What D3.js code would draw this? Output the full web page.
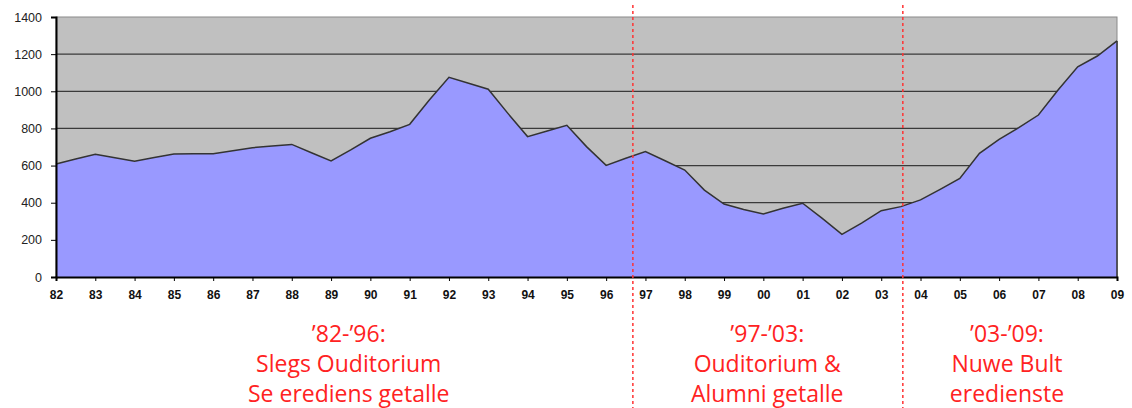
<!DOCTYPE html>
<html>
<head>
<meta charset="utf-8">
<script src="https://cdn.jsdelivr.net/npm/d3@7"></script>
<style>
  body { margin: 0; background: #fff; }
  svg { display: block; }
</style>
</head>
<body>
<svg id="chart" width="1132" height="408"></svg>
<script>
const width = 1132;
const height = 408;
const margin = { top: 17, right: 15, bottom: 131, left: 56 };

// half-year steps, 100 = 2000
const periods = [82, 82.5, 83, 83.5, 84, 84.5, 85, 85.5, 86, 86.5, 87, 87.5, 88, 88.5,
    89, 89.5, 90, 90.5, 91, 91.5, 92, 92.5, 93, 93.5, 94, 94.5, 95, 95.5, 96, 96.5,
    97, 97.5, 98, 98.5, 99, 99.5, 100, 100.5, 101, 101.5, 102, 102.5, 103, 103.5,
    104, 104.5, 105, 105.5, 106, 106.5, 107, 107.5, 108, 108.5, 109];
const counts = [608, 635, 661, 642, 623, 643, 662, 663, 664, 680, 696, 705, 714, 669,
    625, 684, 747, 782, 822, 953, 1075, 1043, 1011, 881, 756, 786, 817, 702, 601, 639,
    675, 626, 576, 468, 393, 364, 339, 370, 397, 316, 230, 290, 357, 379,
    415, 472, 531, 666, 741, 804, 872, 1007, 1132, 1190, 1271];

const yearTicks = [82, 83, 84, 85, 86, 87, 88, 89, 90, 91, 92, 93, 94, 95, 96, 97, 98,
    99, 100, 101, 102, 103, 104, 105, 106, 107, 108, 109];
const yearLabels = ["82", "83", "84", "85", "86", "87", "88", "89", "90", "91", "92", "93",
    "94", "95", "96", "97", "98", "99", "00", "01", "02", "03", "04", "05", "06", "07", "08", "09"];
const valueTicks = [0, 200, 400, 600, 800, 1000, 1200, 1400];

const dividers = [96.68, 103.55];
const noteCenters = [89.45, 100.1, 106.2];
const noteLines = [
    ["\u201982-\u201996:", "Slegs Ouditorium", "Se erediens getalle"],
    ["\u201997-\u201903:", "Ouditorium &", "Alumni getalle"],
    ["\u201903-\u201909:", "Nuwe Bult", "eredienste"]
];

const data = periods.map((p, i) => ({ p: p, v: counts[i] }));

const svg = d3.select("#chart");
const plotW = width - margin.left - margin.right;
const plotH = height - margin.top - margin.bottom;

const x = d3.scaleLinear().domain([82, 109]).range([margin.left, margin.left + plotW]);
const y = d3.scaleLinear().domain([0, 1400]).range([margin.top + plotH, margin.top]);

// plot background
svg.append("rect")
    .attr("x", x(82)).attr("y", y(1400))
    .attr("width", x(109) - x(82)).attr("height", y(0) - y(1400))
    .attr("fill", "#c0c0c0")
    .attr("stroke", "#8a8a8a")
    .attr("stroke-width", 1);

// gridlines
svg.append("g")
    .selectAll("line")
    .data(valueTicks.filter(v => v > 0 && v < 1400))
    .enter()
    .append("line")
    .attr("x1", x(82)).attr("x2", x(109))
    .attr("y1", d => y(d)).attr("y2", d => y(d))
    .attr("stroke", "#3a3a3a")
    .attr("stroke-width", 1.2);

// area
const area = d3.area()
    .x(d => x(d.p))
    .y0(y(0))
    .y1(d => y(d.v));

const line = d3.line()
    .x(d => x(d.p))
    .y(d => y(d.v));

svg.append("path")
    .datum(data)
    .attr("d", area)
    .attr("fill", "#9999ff");

svg.append("path")
    .datum(data)
    .attr("d", line)
    .attr("fill", "none")
    .attr("stroke", "#333")
    .attr("stroke-width", 1.5);

// right edge of area
svg.append("line")
    .attr("x1", x(109)).attr("x2", x(109))
    .attr("y1", y(counts[counts.length - 1])).attr("y2", y(0))
    .attr("stroke", "#333")
    .attr("stroke-width", 1.5);

// y axis
const yAxis = d3.axisLeft(y)
    .tickValues(valueTicks)
    .tickFormat(d3.format("d"))
    .tickSize(5)
    .tickPadding(9);

const yg = svg.append("g")
    .attr("transform", "translate(" + x(82) + ",0)")
    .call(yAxis);
yg.select(".domain").attr("stroke", "#000").attr("stroke-width", 2);
yg.selectAll(".tick line").attr("stroke", "#000");
yg.selectAll(".tick text")
    .attr("fill", "#222")
    .style("font-family", "Liberation Sans, Arial, sans-serif")
    .style("font-size", "12.5px");

// x axis
const xAxis = d3.axisBottom(x)
    .tickValues(yearTicks)
    .tickFormat((d, i) => yearLabels[i])
    .tickSize(4)
    .tickPadding(9);

const xg = svg.append("g")
    .attr("transform", "translate(0," + y(0) + ")")
    .call(xAxis);
xg.select(".domain").attr("stroke", "#000").attr("stroke-width", 2);
xg.selectAll(".tick line").attr("stroke", "#000");
xg.selectAll(".tick text")
    .attr("fill", "#111")
    .style("font-family", "Liberation Sans, Arial, sans-serif")
    .style("font-weight", "bold")
    .style("font-size", "12px");

// dividers
svg.append("g")
    .selectAll("line")
    .data(dividers)
    .enter()
    .append("line")
    .attr("x1", d => x(d)).attr("x2", d => x(d))
    .attr("y1", 5).attr("y2", height)
    .attr("stroke", "#f33")
    .attr("stroke-width", 1.5)
    .attr("stroke-dasharray", "3,3");

// period notes
const notes = svg.append("g")
    .selectAll("text")
    .data(noteCenters)
    .enter()
    .append("text")
    .attr("text-anchor", "middle")
    .attr("fill", "#f22")
    .style("font-family", "Open Sans, sans-serif")
    .style("font-size", "23px");

notes.selectAll("tspan")
    .data((d, i) => noteLines[i].map(l => ({ at: d, text: l })))
    .enter()
    .append("tspan")
    .attr("x", d => x(d.at))
    .attr("y", (d, i) => 342 + i * 30)
    .text(d => d.text);
</script>
</body>
</html>
